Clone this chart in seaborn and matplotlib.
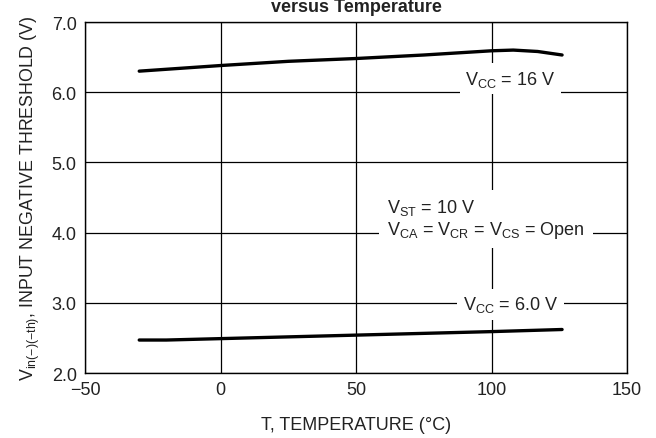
import matplotlib
matplotlib.use("Agg")
import matplotlib.pyplot as plt
import seaborn as sns
import pandas as pd

# Data
temps_16 = [-30, 0, 25, 50, 75, 100, 108, 117, 126]
vth_16 = [6.30, 6.38, 6.44, 6.48, 6.53, 6.59, 6.60, 6.58, 6.53]
temps_6 = [-30, -20, 0, 50, 100, 126]
vth_6 = [2.47, 2.47, 2.49, 2.54, 2.59, 2.62]
x_ticks = [-50, 0, 50, 100, 150]
y_ticks = [2.0, 3.0, 4.0, 5.0, 6.0, 7.0]

sns.set_theme(style="white")
plt.rcParams['font.family'] = ['Liberation Sans', 'DejaVu Sans']
plt.rcParams['mathtext.fontset'] = 'custom'
plt.rcParams['mathtext.rm'] = 'Liberation Sans'

df = pd.concat([
    pd.DataFrame({"T": temps_16, "V": vth_16, "s": "16"}),
    pd.DataFrame({"T": temps_6, "V": vth_6, "s": "6"}),
])

fig, ax = plt.subplots(figsize=(6.56, 4.39), dpi=100)
fig.subplots_adjust(left=0.1296, right=0.956, top=0.9476, bottom=0.148)

sns.lineplot(data=df, x="T", y="V", units="s", estimator=None, color="black",
             linewidth=2.4, ax=ax, legend=False, sort=False)

ax.set_xlim(-50, 150)
ax.set_ylim(2.0, 7.0)
ax.set_xticks(x_ticks)
ax.set_xticklabels(["\u221250", "0", "50", "100", "150"])
ax.set_yticks(y_ticks)
ax.set_yticklabels([f"{v:.1f}" for v in y_ticks])
ax.tick_params(axis='both', length=0, labelsize=13, colors="#222222", pad=6)
ax.grid(True, color="black", linewidth=0.9)
ax.set_axisbelow(True)
for sp in ax.spines.values():
    sp.set_color("black")
    sp.set_linewidth(1.0)

ax.set_xlabel("T, TEMPERATURE (\u00b0C)", fontsize=13, color="#222222", labelpad=13)
ax.set_ylabel("$\\mathregular{V_{in(-)(-th)}}$, INPUT NEGATIVE THRESHOLD (V)",
              fontsize=12.8, color="#222222", labelpad=7)

bbox = dict(facecolor="white", edgecolor="none", pad=4)
ax.text(107, 6.19, "$\\mathregular{V_{CC}}$ = 16 V", ha="center", va="center",
        fontsize=13, color="#222222", bbox=bbox)
ax.text(107, 2.98, "$\\mathregular{V_{CC}}$ = 6.0 V", ha="center", va="center",
        fontsize=13, color="#222222", bbox=bbox)
ax.text(61.5, 4.2, "$\\mathregular{V_{ST}}$ = 10 V\n$\\mathregular{V_{CA}}$ = $\\mathregular{V_{CR}}$ = $\\mathregular{V_{CS}}$ = Open",
        ha="left", va="center", fontsize=13, color="#222222", linespacing=1.1,
        bbox=dict(facecolor="white", edgecolor="none", pad=6))

fig.text(0.543, 0.972, "versus Temperature", ha="center", va="baseline",
         fontsize=13, fontweight="bold", color="#222222")

fig.savefig("out.png", dpi=100)
